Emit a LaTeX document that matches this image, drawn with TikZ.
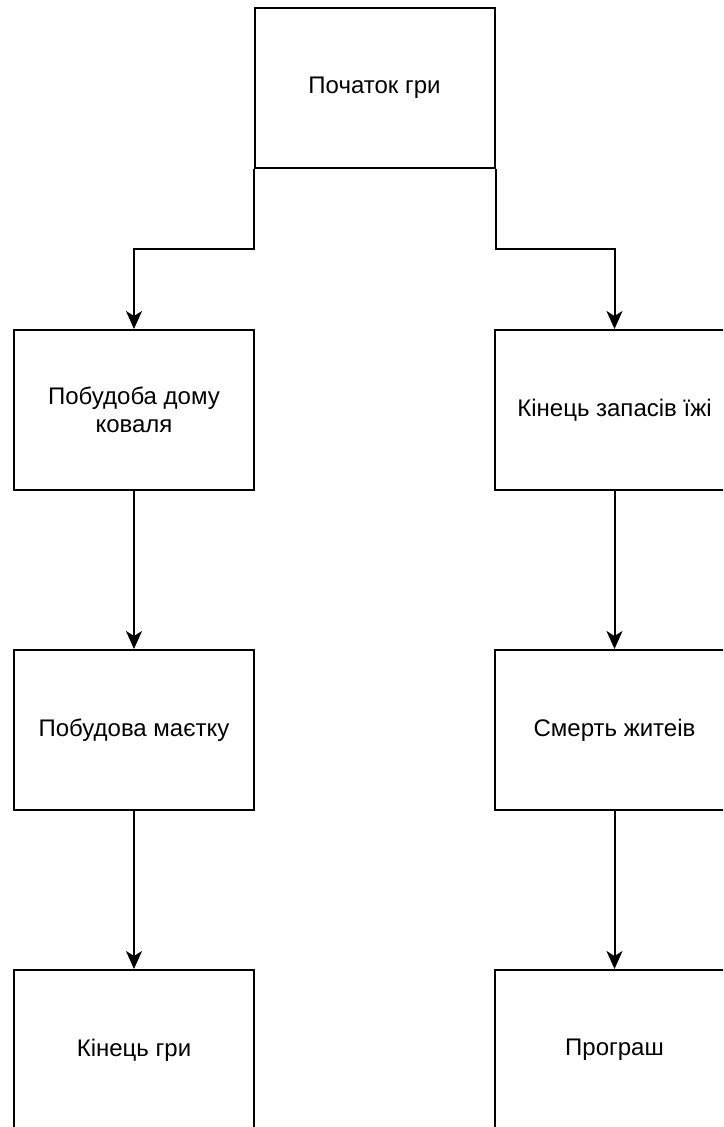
\documentclass[tikz,border=0pt]{standalone}
\usepackage{fontspec}
\setmainfont{Liberation Sans}
\usetikzlibrary{arrows.meta}
\begin{document}
\begin{tikzpicture}[x=1pt,y=-1pt,
  box/.style={draw=black, line width=2pt, fill=white, rectangle,
    minimum width=240pt, minimum height=160pt, inner sep=0pt,
    align=center, font=\fontsize{24}{28.5}\selectfont},
  link/.style={draw=black, line width=2pt,
    -{Stealth[length=18pt, width=16pt, inset=5pt]}}]
  \useasboundingbox (0,0) rectangle (723,1127);
  \clip (0,0) rectangle (723,1127);
  \fill[white] (0,0) rectangle (723,1127);

  % start of the game
  \node[box] (start) at (374.5,88) {Початок гри};

  % left branch: building
  \node[box] (smith) at (134,410) {Побудоба дому\\коваля};
  \node[box] (estate) at (134,730) {Побудова маєтку};
  \node[box] (end) at (134,1050) {Кінець гри};

  % right branch: famine
  \node[box] (food) at (614.5,410) {Кінець запасів їжі};
  \node[box] (death) at (614.5,730) {Смерть житеів};
  \node[box] (lose) at (614.5,1050) {Програш};

  % forks from the bottom corners of the start box
  \draw[link] (start.south west) -- ++(0,80) -| (smith.north);
  \draw[link] (start.south east) -- ++(0,80) -| (food.north);

  % chains down each column
  \draw[link] (smith) -- (estate);
  \draw[link] (estate) -- (end);
  \draw[link] (food) -- (death);
  \draw[link] (death) -- (lose);
\end{tikzpicture}
\end{document}
